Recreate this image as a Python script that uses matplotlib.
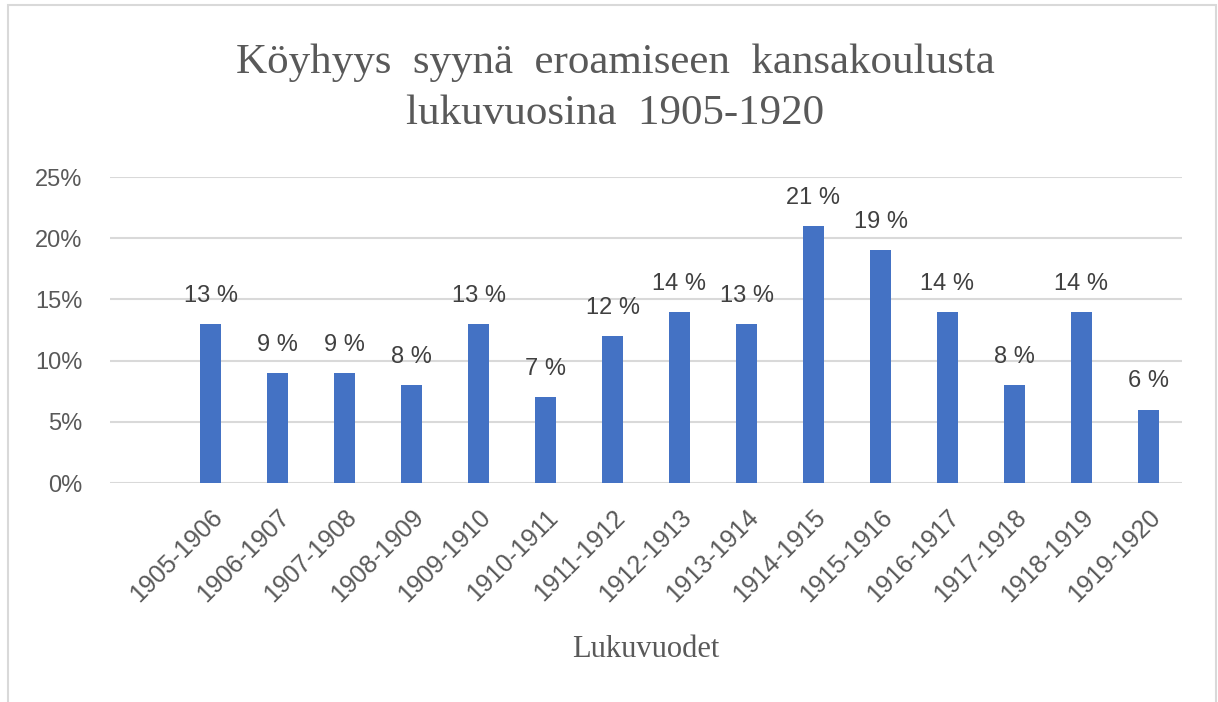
import matplotlib.pyplot as plt
from matplotlib.patches import Rectangle
from matplotlib.ticker import PercentFormatter

years = ['1905-1906', '1906-1907', '1907-1908', '1908-1909', '1909-1910',
         '1910-1911', '1911-1912', '1912-1913', '1913-1914', '1914-1915',
         '1915-1916', '1916-1917', '1917-1918', '1918-1919', '1919-1920']
share = [13, 9, 9, 8, 13, 7, 12, 14, 13, 21, 19, 14, 8, 14, 6]

title = 'Köyhyys  syynä  eroamiseen  kansakoulusta\nlukuvuosina  1905-1920'
xlabel = 'Lukuvuodet'

sans = ['Liberation Sans', 'DejaVu Sans']
serif = ['Liberation Serif', 'DejaVu Serif']

fig = plt.figure(figsize=(12.18, 7.02), dpi=100)
ax = fig.add_axes([110 / 1218, 1 - 483 / 702, (1182 - 110) / 1218, (483 - 177) / 702])

# outer frame like the Excel chart area
fig.patches.append(Rectangle((8 / 1218, -0.02), 1208 / 1218, 1 - 5 / 702 + 0.02,
                             transform=fig.transFigure, fill=False,
                             edgecolor='#d9d9d9', linewidth=1.5))

x = list(range(len(years)))
bars = ax.bar(x, share, width=0.32, color='#4472c4', zorder=3)

for b, v in zip(bars, share):
    ax.text(b.get_x() + b.get_width() / 2, v + 1.4, f'{v} %', ha='center', va='bottom',
            fontsize=17, color='#404040', family=sans)

ax.set_xlim(-1.5, len(years) - 0.5)
ax.set_ylim(0, 25)
ax.set_yticks([0, 5, 10, 15, 20, 25])
ax.yaxis.set_major_formatter(PercentFormatter(decimals=0))
ax.grid(axis='y', color='#d9d9d9', linewidth=1.5, zorder=0)
for s in ax.spines.values():
    s.set_visible(False)
ax.tick_params(axis='both', length=0, colors='#595959', labelsize=17)
ax.tick_params(axis='y', pad=20)
for lab in ax.get_yticklabels():
    lab.set_family(sans)

ax.set_xticks(x)
ax.set_xticklabels(years, rotation=45, ha='right', rotation_mode='anchor',
                   family=sans, fontsize=18, color='#595959')
ax.tick_params(axis='x', pad=16)

ax.set_xlabel(xlabel, family=serif, fontsize=22, color='#595959', labelpad=20)
fig.text(615 / 1218, 1 - 88 / 702, title, ha='center', va='center', family=serif,
         fontsize=31, color='#595959', linespacing=1.42)

fig.savefig('out.png', dpi=100)
